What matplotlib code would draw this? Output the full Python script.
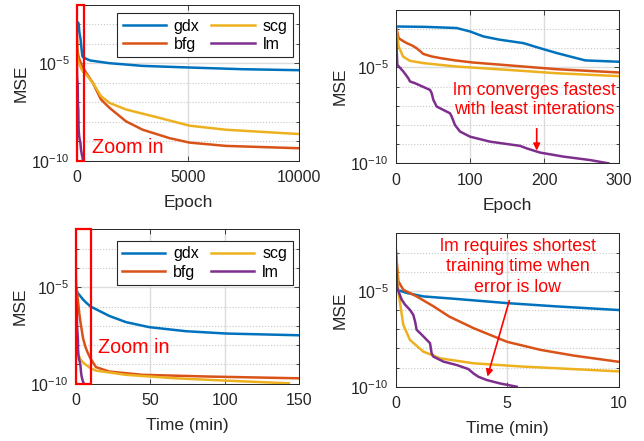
import numpy as np
import matplotlib
matplotlib.use("agg")
import matplotlib.pyplot as plt
from matplotlib.patches import Rectangle
from matplotlib.ticker import FixedLocator, NullFormatter

plt.rcParams['font.family'] = ['Liberation Sans', 'DejaVu Sans']
plt.rcParams['axes.unicode_minus'] = False

# ---- training curves vs epoch (log10 of MSE) ----
gdx_epoch = [0, 40, 82, 100, 118, 140, 172, 194, 217, 243, 255, 300, 600, 1470, 2970, 5000, 7470, 10000]
gdx_epoch_mse = [-2.86, -2.88, -2.94, -3.12, -3.38, -3.55, -3.73, -3.99, -4.25, -4.51, -4.63, -4.7,
                 -4.85, -4.99, -5.13, -5.21, -5.3, -5.35]

bfg_epoch = [0, 4, 10, 15, 22, 28, 33, 37, 48, 60, 80, 104, 140, 172, 217, 300, 420, 720, 1090, 1470,
             2220, 2970, 4170, 5070, 6720, 10000]
bfg_epoch_mse = [-2.77, -3.47, -3.62, -3.73, -3.85, -3.99, -4.15, -4.29, -4.42, -4.51, -4.63, -4.74,
                 -4.85, -4.95, -5.09, -5.26, -5.47, -5.99, -6.85, -7.28, -7.98, -8.41, -8.84, -9.07,
                 -9.24, -9.36]

scg_epoch = [0, 4, 10, 19, 37, 82, 149, 217, 300, 420, 720, 1090, 1470, 2220, 3720, 5070, 6720, 10000]
scg_epoch_mse = [-2.77, -3.9, -4.43, -4.65, -4.77, -4.95, -5.12, -5.3, -5.45, -5.56, -5.99, -6.68,
                 -7.03, -7.37, -7.8, -8.2, -8.41, -8.63]

lm_epoch = [0, 2.2, 10.3, 17, 19.3, 26, 46.2, 48.4, 50.7, 55.2, 73.1, 75.3, 79.8, 86.5, 100, 126.9,
            167.3, 176.2, 194.2, 225.6, 261.4, 286.1]
lm_epoch_mse = [-2.86, -4.86, -5.21, -5.56, -5.73, -5.82, -6.17, -6.34, -6.69, -7.04, -7.39, -7.56,
                -8.0, -8.34, -8.61, -8.87, -9.09, -9.22, -9.44, -9.65, -9.83, -10.0]

# ---- training curves vs time in minutes (log10 of MSE) ----
gdx_time = [0, 0.02, 0.05, 0.5, 1.24, 2.7, 5, 7.2, 10, 22.6, 33.8, 49.4, 74, 101, 150]
gdx_time_mse = [-2.86, -4.6, -4.94, -5.11, -5.29, -5.42, -5.64, -5.81, -6.0, -6.49, -6.81, -7.07,
                -7.28, -7.4, -7.49]

bfg_time = [0, 0.12, 0.34, 0.94, 1.7, 2.4, 3.5, 5, 6.5, 8, 10, 13.6, 22.6, 45, 90, 150]
bfg_time_mse = [-2.76, -4.5, -4.94, -5.29, -5.81, -6.34, -6.95, -7.66, -8.08, -8.38, -8.7, -9.14,
                -9.37, -9.54, -9.63, -9.72]

scg_time = [0, 0.12, 0.34, 0.64, 1.24, 2, 3.5, 5.7, 10, 13.6, 33.8, 67, 101, 143]
scg_time_mse = [-2.72, -5.03, -6.77, -7.56, -8.17, -8.52, -8.78, -8.95, -9.2, -9.32, -9.54, -9.72,
                -9.84, -9.98]

lm_time = [0, 0.07, 0.27, 0.42, 0.64, 0.79, 0.87, 0.94, 1.17, 1.54, 1.61, 1.69, 2.14, 2.74, 3.26,
           3.48, 3.71, 4.08, 4.68, 5.43]
lm_time_mse = [-2.84, -4.85, -5.46, -5.72, -5.99, -6.25, -6.6, -7.03, -7.29, -7.73, -8.25, -8.43,
               -8.69, -8.87, -9.08, -9.3, -9.48, -9.65, -9.83, -10.0]

names = ['gdx', 'bfg', 'scg', 'lm']
colors = ['#0072BD', '#D95319', '#EDB120', '#7E2F8E']
epoch_x = [gdx_epoch, bfg_epoch, scg_epoch, lm_epoch]
epoch_y = [gdx_epoch_mse, bfg_epoch_mse, scg_epoch_mse, lm_epoch_mse]
time_x = [gdx_time, bfg_time, scg_time, lm_time]
time_y = [gdx_time_mse, bfg_time_mse, scg_time_mse, lm_time_mse]

fig = plt.figure(figsize=(6.44, 4.41), dpi=100)
ax1 = fig.add_axes([0.1191, 0.6356, 0.3452, 0.3531])
ax2 = fig.add_axes([0.6144, 0.6297, 0.3463, 0.3476])
ax3 = fig.add_axes([0.1175, 0.1299, 0.3472, 0.3501])
ax4 = fig.add_axes([0.6144, 0.1231, 0.3463, 0.3478])

dark = '#262626'


def style(ax, xlim, xticks, xlabel):
    ax.set_yscale('log')
    ax.set_xlim(xlim)
    ax.set_ylim(1e-10, 10 ** -2)
    ax.set_xticks(xticks)
    ax.yaxis.set_major_locator(FixedLocator([1e-10, 1e-5]))
    ax.yaxis.set_minor_locator(FixedLocator([10.0 ** k for k in range(-9, -2) if k != -5]))
    ax.yaxis.set_minor_formatter(NullFormatter())
    ax.set_yticklabels([r'$\mathregular{10^{-10}}$', r'$\mathregular{10^{-5}}$'])
    ax.tick_params(which='both', direction='in', top=True, right=True, colors=dark,
                   labelsize=11.5, width=0.6)
    ax.tick_params(which='major', length=3.5, pad=5)
    ax.tick_params(axis='x', which='major', pad=7)
    ax.tick_params(which='minor', length=2)
    ax.grid(True, which='major', color='#dcdcdc', linewidth=1.0)
    ax.grid(True, which='minor', axis='y', color='#c8c8c8', linestyle=':', linewidth=0.8)
    ax.set_axisbelow(True)
    for s in ax.spines.values():
        s.set_color(dark)
        s.set_linewidth(0.7)
    ax.set_xlabel(xlabel, fontsize=12.5, color=dark, labelpad=7)
    ax.set_ylabel('MSE', fontsize=12.5, color=dark)
    ax.yaxis.set_label_coords(-0.215, 0.5)


for ax, xs, ys in [(ax1, epoch_x, epoch_y), (ax2, epoch_x, epoch_y), (ax3, time_x, time_y), (ax4, time_x, time_y)]:
    for n, c, x, y in zip(names, colors, xs, ys):
        ax.plot(x, 10 ** np.array(y), color=c, lw=1.8, label=n)

style(ax1, (0, 10000), [0, 5000, 10000], 'Epoch')
style(ax2, (0, 300), [0, 100, 200, 300], 'Epoch')
style(ax3, (0, 150), [0, 50, 100, 150], 'Time (min)')
style(ax4, (0, 10), [0, 5, 10], 'Time (min)')

# 圖例
for ax, anchor in [(ax1, (0.973, 0.949)), (ax3, (0.97, 0.926))]:
    leg = ax.legend(ncol=2, loc='upper right', bbox_to_anchor=anchor, fontsize=11.5,
                    handlelength=2.7, handletextpad=0.5, columnspacing=0.75,
                    labelspacing=0.2, borderpad=0.35, borderaxespad=0,
                    fancybox=False, framealpha=1)
    leg.get_frame().set_edgecolor(dark)
    leg.get_frame().set_linewidth(0.8)

# 放大區域框
ax1.add_patch(Rectangle((0, 1e-10), 350, 1e-2 - 1e-10, fill=False, edgecolor='red', lw=1.6, clip_on=False, zorder=5))
ax3.add_patch(Rectangle((0, 1e-10), 10, 1e-2 - 1e-10, fill=False, edgecolor='red', lw=1.6, clip_on=False, zorder=5))
ax1.text(0.067, 0.05, 'Zoom in', color='red', fontsize=14.2, transform=ax1.transAxes, va='baseline')
ax3.text(0.101, 0.197, 'Zoom in', color='red', fontsize=14.2, transform=ax3.transAxes, va='baseline')

# 註解
ax2.text(0.62, 0.413, 'lm converges fastest\nwith least interations', color='red', fontsize=12.8,
         ha='center', va='center', transform=ax2.transAxes)
ax2.annotate('', xy=(189.7, 10 ** -9.48), xytext=(189.7, 10 ** -8.05),
             arrowprops=dict(arrowstyle='-|>', color='red', lw=1.2, mutation_scale=10))

ax4.text(0.548, 0.782, 'lm requires shortest\ntraining time when\nerror is low', color='red', fontsize=12.8,
         ha='center', va='center', transform=ax4.transAxes, linespacing=1.25)
ax4.annotate('', xy=(4.08, 10 ** -9.61), xytext=(5.13, 10 ** -5.37),
             arrowprops=dict(arrowstyle='-|>', color='red', lw=1.2, mutation_scale=10))

plt.savefig('out.png', dpi=100)
